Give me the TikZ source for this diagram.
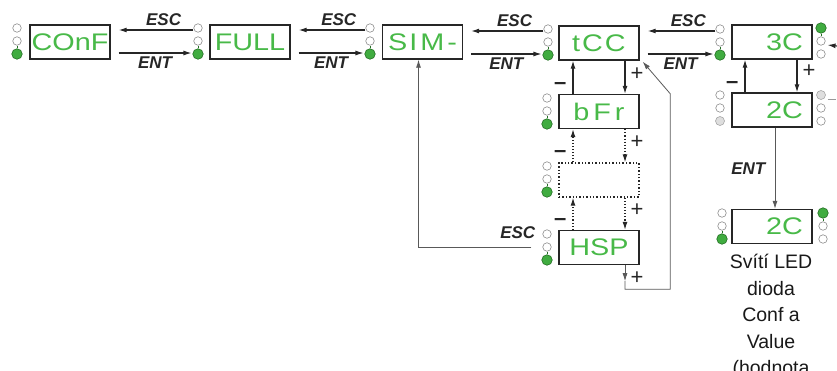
\documentclass[tikz,border=0pt]{standalone}
\usepackage{fontspec}
\setmainfont{Liberation Sans}
\newfontfamily\lcdfont[FakeStretch=1.2]{Liberation Sans}
\usetikzlibrary{arrows.meta,calc}
\definecolor{lcdgreen}{RGB}{72,185,72}
\definecolor{ledgreen}{RGB}{64,172,64}
\definecolor{leddark}{RGB}{35,110,35}
\newcommand\ledcol[6]{%
  \node[led#4] (#1a) at (#2,#3) {};
  \node[led#5] (#1b) at (#2,#3+13) {};
  \node[led#6] (#1c) at (#2,#3+26) {};}
\tikzset{
  disp/.style={draw=black!85, line width=1.4pt, minimum width=80pt, minimum height=34pt,
    inner sep=0pt, font=\lcdfont\fontsize{24}{24}\selectfont, text=lcdgreen},
  dispdot/.style={disp, dotted},
  rightnum/.style={text width=62pt, align=right},
  ledw/.style={circle, draw=black!45, fill=white, minimum size=8.5pt, inner sep=0pt, line width=0.6pt},
  ledg/.style={circle, draw=leddark, fill=ledgreen, minimum size=10.5pt, inner sep=0pt, line width=0.6pt},
  ledy/.style={circle, draw=black!35, fill=black!13, minimum size=9pt, inner sep=0pt, line width=0.6pt},
  glink/.style={draw=leddark, line width=1pt},
  lbl/.style={font=\fontsize{17}{17}\selectfont\bfseries\itshape, text=black!85},
  pm/.style={font=\fontsize{22}{22}\selectfont, text=black!85, inner sep=0pt},
  conn/.style={draw=black!85, line width=1.1pt, -{Latex[length=8pt,width=5pt]}},
  thinconn/.style={draw=black!65, line width=0.8pt, -{Latex[length=8pt,width=5pt]}},
  dotconn/.style={conn, dotted},
}
\begin{document}
\begin{tikzpicture}[x=1pt, y=-1pt]
\useasboundingbox (0,0) rectangle (837,370);
% displays
\node[disp] (conf) at (70,42) {COnF};
\node[disp] (full) at (250,42) {FULL};
\node[disp] (sim) at (422.5,42) {S\kern2ptI\kern3ptM\kern3pt-};
\node[disp] (tccbox) at (599,43) {t\kern2ptC\kern2ptC};
\node[disp, rightnum] (three) at (772,42) {3C};
\node[disp, rightnum] (twom) at (772,110) {2C};
\node[disp, rightnum] (twob) at (772,226.5) {2C};
\node[disp] (bfr) at (599,111.5) {b\kern4ptF\kern4ptr};
\node[dispdot] (dotbox) at (599,180) {};
\node[disp] (hsp) at (599,247.5) {HSP};
% LEDs
\ledcol{cf}{17}{28}{w}{w}{g}
\ledcol{fu}{198}{28}{w}{w}{g}
\ledcol{si}{370}{28}{w}{w}{g}
\ledcol{tq}{548}{29}{w}{w}{g}
\ledcol{thL}{720}{29}{w}{w}{g}
\ledcol{thR}{821}{28}{g}{w}{w}
\ledcol{twL}{720}{95}{w}{w}{y}
\ledcol{twR}{821}{95}{y}{w}{w}
\ledcol{bf}{547}{98}{w}{w}{g}
\ledcol{dt}{547}{166}{w}{w}{g}
\ledcol{hs}{547}{234}{w}{w}{g}
\ledcol{tbL}{722}{213}{w}{w}{g}
\ledcol{tbR}{823}{213}{g}{w}{w}
\foreach \n in {cf,fu,si,tq,thL,bf,dt,hs,tbL} {\draw[glink] (\n c) -- (\n b);}
\foreach \n in {thR,tbR} {\draw[glink] (\n a) -- (\n b);}
% top row ESC / ENT
\foreach \a/\b in {conf/fu, full/si, sim/tq, tccbox/thL} {
  \draw[conn] ($(\b a.west)+(0,2)$) -- ($(\a.east |- \b a)+(8,2)$)
    node[lbl, pos=0.4, above=0pt] {ESC};
  \draw[conn] ($(\a.east |- \b c)+(8,-1)$) -- ($(\b c.west)+(-1,-1)$)
    node[lbl, pos=0.5, below=0pt] {ENT};
}
% tCC <-> bFr
\draw[conn] ($(tccbox.south)+(26,0)$) -- ($(bfr.north)+(26,0)$) node[pm, pos=0.4, right=5pt] {+};
\draw[conn] ($(bfr.north)+(-26,0)$) -- ($(tccbox.south)+(-26,0)$) node[pm, pos=0.4, left=6pt, yshift=-5pt] {\textbf{–}};
% bFr <-> dotted
\draw[dotconn] ($(bfr.south)+(26,0)$) -- ($(dotbox.north)+(26,0)$) node[pm, pos=0.4, right=5pt] {+};
\draw[dotconn] ($(dotbox.north)+(-26,0)$) -- ($(bfr.south)+(-26,0)$) node[pm, pos=0.4, left=6pt, yshift=-5pt] {\textbf{–}};
% dotted <-> HSP
\draw[dotconn] ($(dotbox.south)+(26,0)$) -- ($(hsp.north)+(26,0)$) node[pm, pos=0.4, right=5pt] {+};
\draw[dotconn] ($(hsp.north)+(-26,0)$) -- ($(dotbox.south)+(-26,0)$) node[pm, pos=0.4, left=6pt, yshift=-5pt] {\textbf{–}};
% 3C <-> 2C
\draw[conn] ($(three.south)+(25,0)$) -- ($(twom.north)+(25,0)$) node[pm, pos=0.35, right=5pt] {+};
\draw[conn] ($(twom.north)+(-27,0)$) -- ($(three.south)+(-27,0)$) node[pm, pos=0.35, left=6pt, yshift=-4pt] {\textbf{–}};
% 2C -> 2C (ENT)
\draw[thinconn] ($(twom.south)+(3,0)$) -- ($(twob.north)+(3,0)$) node[lbl, pos=0.5, left=6pt] {ENT};
% HSP ESC -> SIM-
\draw[thinconn] ($(hsb.west)+(-11,0)$) -| ($(sim.south)+(-4,0)$);
\node[lbl, anchor=south east, inner sep=0pt] (hspesc) at ($(hsb.west)+(-7,-8)$) {ESC};
% HSP + loop back to tCC
\draw[thinconn] ($(hsp.south)+(26,0)$) -- ++(0,16) coordinate (lp1);
\node[pm] (hspplus) at ($(hsp.south)+(38,13)$) {+};
\draw[thinconn] (lp1) -- ++(0,8) -| ($(tccbox.south east)+(30.5,33)$) -- ($(tccbox.south east)+(3,1)$);
% right edge arrow and dash
\coordinate (redge) at (837,46);
\draw[conn] (redge) -- ($(thRb.east)+(2,4)$);
\draw[draw=black!40, line width=0.8pt] ($(twRa.east)+(2,4)$) -- ++(8,0);
% caption
\node[anchor=north, align=center, inner sep=0pt, font=\fontsize{19.5}{26.5}\selectfont, text=black!90] (cap) at (771,254)
  {Svítí LED\\dioda\\Conf a\\Value\\(hodnota};
\end{tikzpicture}
\end{document}
